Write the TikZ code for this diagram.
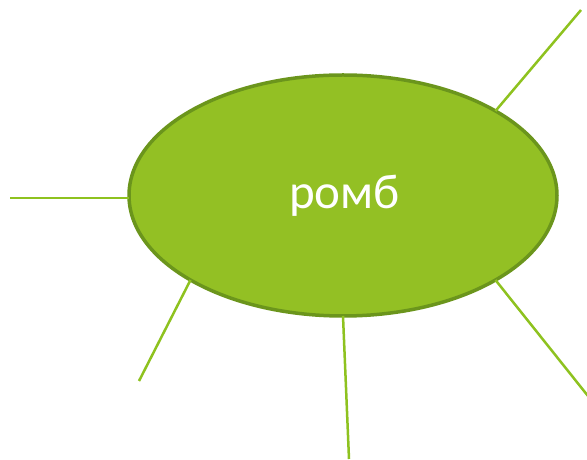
\documentclass[tikz,border=0pt]{standalone}
\usepackage{fontspec}
\setmainfont{Carlito}
\usetikzlibrary{shapes.geometric}
\definecolor{fillgreen}{HTML}{93C024}
\definecolor{bordergreen}{HTML}{6B951C}
\definecolor{linegreen}{HTML}{8EC21F}
\tikzset{
  bubble/.style={ellipse, fill=fillgreen, draw=bordergreen, line width=3.5pt,
    line join=round, line cap=round,
    minimum width=428pt, minimum height=241pt, inner sep=0pt, outer sep=0pt,
    text=white, font=\fontsize{49}{56}\selectfont},
  spoke/.style={draw=linegreen, line width=2.5pt}
}
\begin{document}
\begin{tikzpicture}[x=1pt,y=1pt]
\useasboundingbox (0,0) rectangle (587,460);
\node[bubble] (e) at (343,264.5) {\hspace*{3pt}\raisebox{-4pt}{ромб}};
\coordinate (tr) at (581,450);
\coordinate (br) at (588,64);
\coordinate (bl) at (139,79);
\coordinate (b) at (349,1);
\coordinate (l) at (10,262);
\draw[spoke] (e.29.8) -- (tr);
\draw[spoke] (e.-29.5) -- (br);
\draw[spoke] (e.209.6) -- (bl);
\draw[spoke] (e.270) -- (b);
\draw[spoke] (e.west |- l) -- (l);
\end{tikzpicture}
\end{document}
